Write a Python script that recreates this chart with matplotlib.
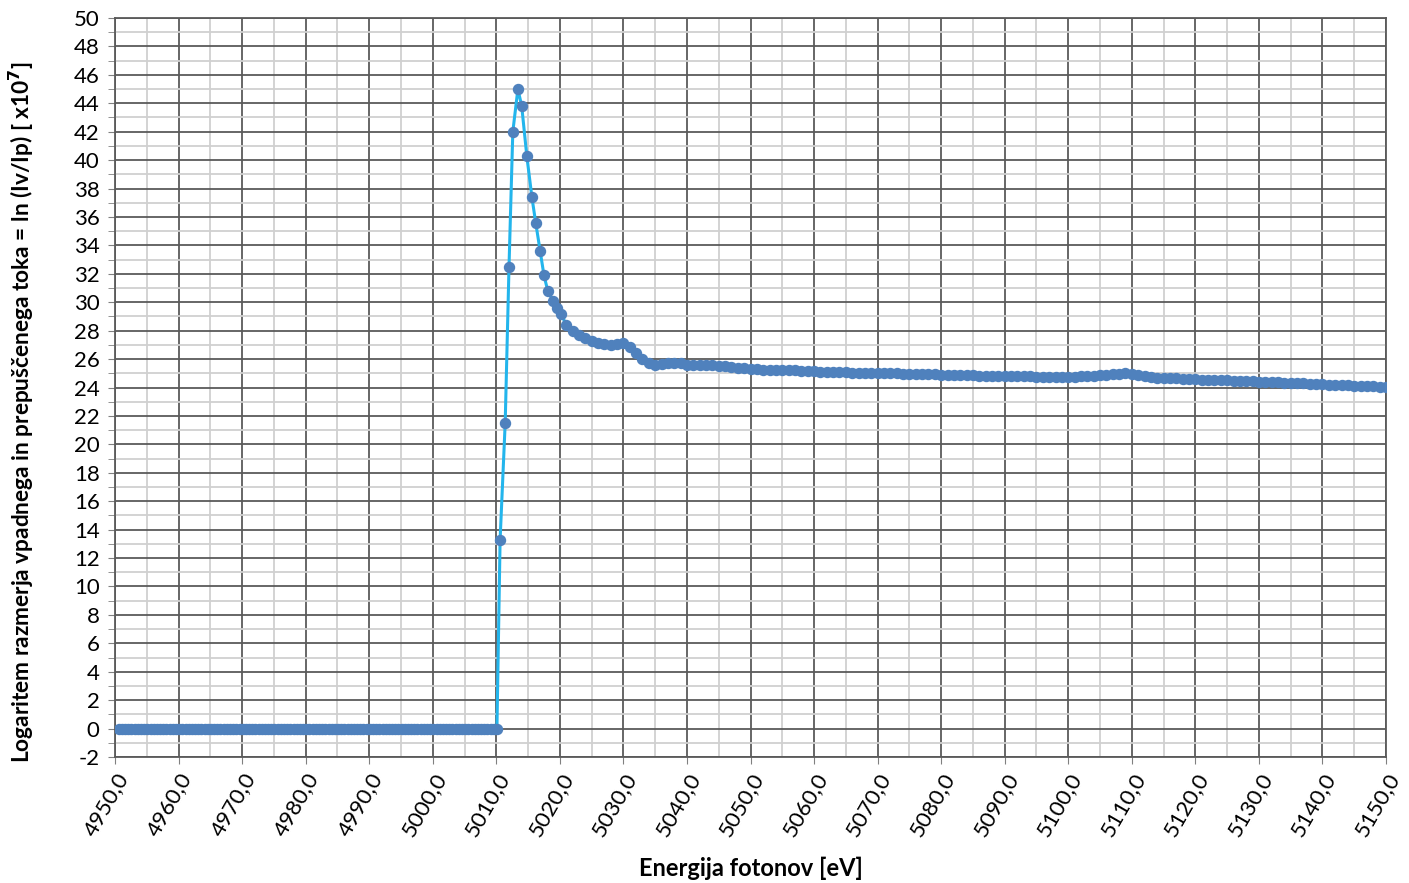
import numpy as np
import matplotlib
matplotlib.use("Agg")
import matplotlib.pyplot as plt
from matplotlib.ticker import MultipleLocator, FuncFormatter

plt.rcParams['font.family'] = ['Lato', 'DejaVu Sans']

# pre-edge: flat at zero
pre_energy = np.arange(4950.6, 5010.2, 0.5)
pre_value = [0.0] * len(pre_energy)

# absorption edge, read point by point
edge_energy = [5010.6, 5011.4, 5012.0, 5012.6, 5013.4, 5014.0, 5014.8, 5015.6,
               5016.2, 5016.9, 5017.5, 5018.1, 5018.9, 5019.6, 5020.2]
edge_value = [13.3, 21.5, 32.5, 42.0, 45.0, 43.8, 40.3, 37.4,
              35.6, 33.6, 31.9, 30.8, 30.1, 29.6, 29.2]

# post-edge, 1 eV steps from 5021 to 5150
post_energy = np.arange(5021, 5151, 1.0)
post_value = [
    28.4, 28.0, 27.7, 27.45, 27.3, 27.15, 27.05, 27.0, 27.05, 27.1,
    26.85, 26.4, 26.0, 25.7, 25.6, 25.65, 25.75, 25.75, 25.7, 25.6,
    25.55, 25.55, 25.55, 25.55, 25.5, 25.5, 25.45, 25.4, 25.35, 25.3,
    25.28, 25.25, 25.25, 25.22, 25.2, 25.2, 25.2, 25.18, 25.15, 25.15,
    25.12, 25.1, 25.1, 25.1, 25.08, 25.05, 25.05, 25.05, 25.03, 25.02,
    25.0, 25.0, 25.0, 24.98, 24.97, 24.95, 24.95, 24.93, 24.92, 24.9,
    24.9, 24.88, 24.87, 24.86, 24.85, 24.84, 24.83, 24.82, 24.81, 24.8,
    24.8, 24.79, 24.78, 24.78, 24.77, 24.77, 24.76, 24.76, 24.76, 24.76,
    24.77, 24.78, 24.8, 24.83, 24.86, 24.9, 24.94, 24.98, 25.0, 24.95,
    24.85, 24.78, 24.74, 24.7, 24.68, 24.66, 24.64, 24.62, 24.6, 24.58,
    24.56, 24.55, 24.53, 24.52, 24.5, 24.49, 24.47, 24.45, 24.43, 24.42,
    24.4, 24.38, 24.36, 24.35, 24.33, 24.31, 24.29, 24.27, 24.25, 24.23,
    24.21, 24.2, 24.18, 24.16, 24.14, 24.12, 24.1, 24.08, 24.07, 24.05,
]

energy = np.concatenate([pre_energy, edge_energy, post_energy])
value = np.concatenate([pre_value, edge_value, post_value])

fig = plt.figure(figsize=(14.09, 8.83), dpi=100)
ax = fig.add_axes([0.0816, 0.1427, 0.9021, 0.8369])

ax.plot(energy, value, color='#23B5EC', lw=2.2, marker='o', ms=7.2,
        mfc='#4F81BD', mec='#4F81BD', zorder=3)

ax.set_xlim(4950, 5150)
ax.set_ylim(-2, 50)
ax.xaxis.set_major_locator(MultipleLocator(10))
ax.xaxis.set_minor_locator(MultipleLocator(5))
ax.yaxis.set_major_locator(MultipleLocator(2))
ax.yaxis.set_minor_locator(MultipleLocator(1))
ax.xaxis.set_major_formatter(FuncFormatter(lambda v, p: f"{v:.1f}".replace('.', ',')))
ax.yaxis.set_major_formatter(FuncFormatter(lambda v, p: f"{v:.0f}"))

ax.grid(which='major', color='#5a5a5a', lw=1.3, zorder=0)
ax.grid(which='minor', color='#d0d0d0', lw=1.3, zorder=0)
ax.set_axisbelow(True)
for s in ax.spines.values():
    s.set_color('#5a5a5a')
    s.set_linewidth(1.3)

ax.tick_params(axis='both', which='both', color='#808080', direction='out')
ax.tick_params(axis='y', which='major', length=5, labelsize=16, pad=6)
ax.tick_params(axis='y', which='minor', length=5)
ax.tick_params(axis='x', which='major', length=5, labelsize=16, pad=4)
ax.tick_params(axis='x', which='minor', length=0)
for lbl in ax.get_xticklabels():
    lbl.set_rotation(60)
    lbl.set_ha('right')
    lbl.set_va('top')
    lbl.set_rotation_mode('anchor')

ax.set_xlabel('Energija fotonov [eV]', fontsize=17, fontweight='bold')
ax.xaxis.set_label_coords(0.5, -0.135)
ax.set_ylabel(r'Logaritem razmerja vpadnega in prepuščenega toka = ln (Iv/Ip) [ x10$^{\mathbf{7}}$]',
              fontsize=16.3, fontweight='bold')
ax.yaxis.set_label_coords(-0.062, 0.467)

fig.savefig('out.png', dpi=100)
